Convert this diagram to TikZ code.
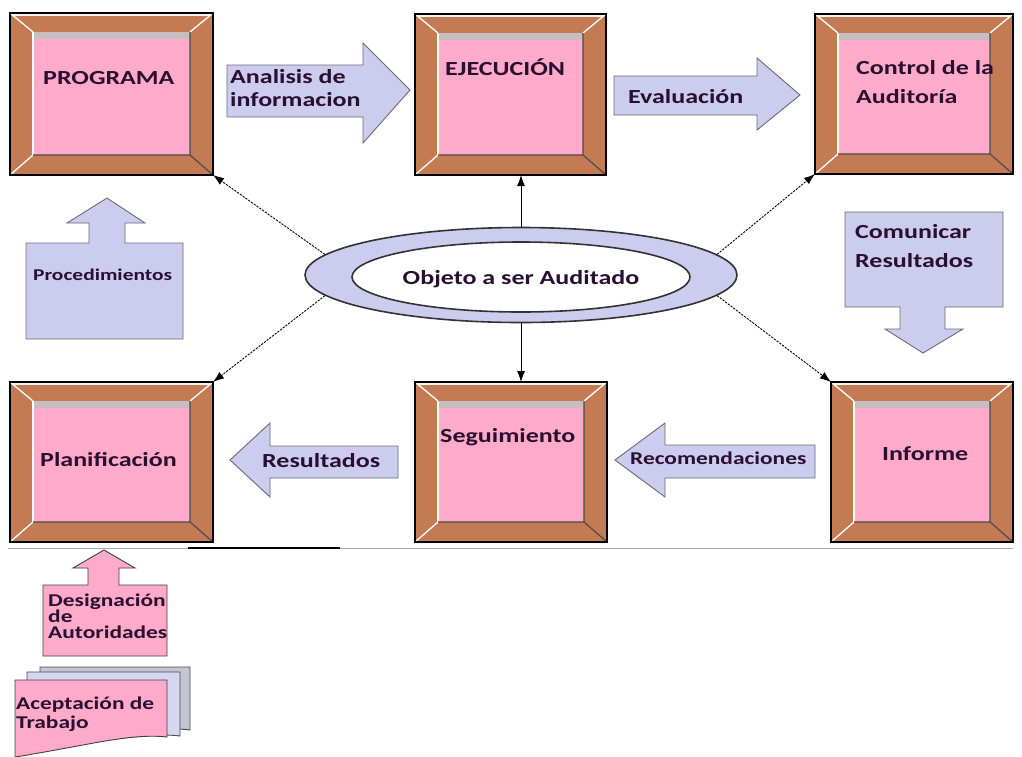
\documentclass[tikz,border=0pt]{standalone}
\usepackage{fontspec}
\newfontfamily\lblfont{Carlito}[FakeStretch=1.3]
\usetikzlibrary{arrows.meta,shapes.geometric}
\definecolor{brownc}{HTML}{C47B53}
\definecolor{pinkc}{HTML}{FFAAC8}
\definecolor{lavc}{HTML}{CCCCEE}
\definecolor{lavgrey}{HTML}{C4C4D4}
\definecolor{stripc}{HTML}{C8BEC2}
\definecolor{txtc}{HTML}{2A1030}
\definecolor{edgec}{HTML}{6A6A78}
\newcommand\bevelframe[5]{%
  \node[frameouter, minimum width={(#4-#2)*1pt}, minimum height={(#5-#3)*1pt}] (#1) at ({(#2+#4)/2},{(#3+#5)/2}) {};
  \coordinate (#1-a) at ({#2+23},{#3+19});
  \coordinate (#1-b) at ({#4-23},{#3+19});
  \coordinate (#1-c) at ({#4-23},{#5-20});
  \coordinate (#1-d) at ({#2+23},{#5-20});
  \fill[pinkc] (#1-a) rectangle (#1-c);
  \fill[stripc] (#1-a) rectangle ({#4-23},{#3+26});
  \draw[white!90!brownc, line width=1.3pt] ({#2+2},{#3+2}) -- ({#4-2},{#3+2});
  \draw[white, line width=1.3pt] (#1.north west) -- (#1-a) (#1.south west) -- (#1-d) (#1.north east) -- (#1-b);
  \draw[white, line width=1.3pt] (#1-a) -- (#1-d);
  \draw[black!70, line width=1.2pt] (#1.south east) -- (#1-c) (#1-d) -- (#1-c) -- (#1-b);
  \draw[black, line width=1.2pt] (#1.north west) rectangle (#1.south east);
}
\begin{document}
\begin{tikzpicture}[x=1pt,y=-1pt,
  frameouter/.style={rectangle, inner sep=0pt, outer sep=0pt, fill=brownc},
  lbl/.style={text=txtc, inner sep=0pt, align=left},
  fsz/.style 2 args={font=\lblfont\bfseries\fontsize{#1}{#2}\selectfont},
  barrow/.style={fill=lavc, draw=edgec, line width=0.9pt, line join=miter},
  parrow/.style={fill=pinkc, draw=black!75, line width=0.9pt},
  conn/.style={-{Latex[length=11pt,width=8pt]}, line width=0.9pt, black},
  dsh/.style={dash pattern=on 2.2pt off 1.2pt}]
\useasboundingbox (0,0) rectangle (1022,756);
\fill[white] (0,0) rectangle (1022,756);

% bevel frames
\bevelframe{prog}{10}{13}{213}{175}
\bevelframe{ejec}{415}{14}{606}{175}
\bevelframe{ctrl}{815}{14}{1013}{174}
\bevelframe{plan}{10}{382}{213}{542}
\bevelframe{seg}{415}{382}{607}{542}
\bevelframe{inf}{831}{382}{1013}{542}

% (for multi-line labels the given point is the baseline of the last line)
\node[lbl, fsz={20}{24}, anchor=base west] (prog-t) at (43,84) {PROGRAMA};
\node[lbl, fsz={20}{24}, anchor=base west] (ejec-t) at (445,75.5) {EJECUCIÓN};
\node[lbl, fsz={20}{29}, anchor=base west] (ctrl-t) at (856,103.5) {Control de la\\Auditoría};
\node[lbl, fsz={20}{24}, anchor=base west] (plan-t) at (40,466) {Planificación};
\node[lbl, fsz={20}{24}, anchor=base west] (seg-t) at (440,442) {Seguimiento};
\node[lbl, fsz={20}{24}, anchor=base west] (inf-t) at (882,460) {Informe};

% separator lines
\draw[black!35, line width=1pt] (8,548) -- (1013,548);
\draw[black, line width=1.6pt] (188,548) -- (340,548);

% block arrows
\draw[barrow] (227,65) -- (363,65) -- (363,43) -- (410,90) -- (363,143) -- (363,117) -- (227,117) -- cycle;
\node[lbl, fsz={20}{23}, anchor=base west] (ana-t) at (230,106.5) {Analisis de\\informacion};

\draw[barrow] (614,76) -- (757,76) -- (757,58) -- (800,95) -- (757,130) -- (757,115) -- (614,115) -- cycle;
\node[lbl, fsz={20}{24}, anchor=base west] (eva-t) at (628,103) {Evaluación};

\draw[barrow] (26,243) -- (89,243) -- (89,223) -- (67,223) -- (107,198) -- (145,223) -- (125,223) -- (125,243) -- (183,243) -- (183,339) -- (26,339) -- cycle;
\node[lbl, fsz={16.5}{20}, anchor=base west] (proc-t) at (33,280) {Procedimientos};

\draw[barrow] (845,212) -- (1003,212) -- (1003,307) -- (945,307) -- (945,329) -- (963,329) -- (923,353) -- (885,329) -- (900,329) -- (900,307) -- (845,307) -- cycle;
\node[lbl, fsz={20}{29}, anchor=base west] (com-t) at (855,267) {Comunicar\\Resultados};

\draw[barrow] (398,446) -- (398,478) -- (270,478) -- (270,497) -- (230,460) -- (270,423) -- (270,446) -- cycle;
\node[lbl, fsz={20}{24}, anchor=base west] (res-t) at (262,467) {Resultados};

\draw[barrow] (815,445) -- (815,478) -- (665,478) -- (665,497) -- (615,460) -- (665,423) -- (665,445) -- cycle;
\node[lbl, fsz={18}{24}, anchor=base west] (rec-t) at (630,464) {Recomendaciones};

% central ellipse
\node[ellipse, minimum width=432pt, minimum height=95pt, inner sep=0pt, fill=lavc, draw=black!80, line width=1.6pt] (obj) at (521,275) {};
\node[ellipse, minimum width=338pt, minimum height=70pt, inner sep=0pt, fill=white, draw=black!80, line width=1.6pt] (objin) at (521,277) {};
\node[lbl, fsz={20}{24}, anchor=base] (obj-t) at (521,284) {Objeto a ser Auditado};

% connectors
\draw[conn, dsh] (obj.174) -- (prog.south east);
\draw[conn] (obj.north) -- (obj.north |- ejec.south);
\draw[conn, dsh] (obj.6) -- (ctrl.south west);
\draw[conn, dsh] (obj.186) -- (plan.north east);
\draw[conn] (obj.south) -- (obj.south |- seg.north);
\draw[conn, dsh] (obj.354) -- (inf.north west);

% bottom left
\draw[parrow] (43,585) -- (88,585) -- (88,568) -- (73,568) -- (104,550) -- (135,568) -- (119,568) -- (119,585) -- (167,585) -- (167,656) -- (43,656) -- cycle;
\node[lbl, fsz={18}{16}, anchor=base west] (des-t) at (48,638) {Designación\\de\\Autoridades};

\draw[fill=lavgrey, draw=black!70, line width=0.9pt] (40,667) -- (190,667) -- (190,730) .. controls (160,726) and (120,734) .. (40,744) -- cycle;
\draw[fill=lavc!80!white, draw=black!70, line width=0.9pt] (27,672) -- (180,672) -- (180,736) .. controls (150,732) and (100,742) .. (27,750) -- cycle;
\draw[fill=pinkc, draw=black!75, line width=0.9pt] (15,680) -- (167,680) -- (167,737) .. controls (130,733) and (90,745) .. (15,757) -- cycle;
\node[lbl, fsz={18}{19}, anchor=base west] (acep-t) at (16,728) {Aceptación de\\Trabajo};
\end{tikzpicture}
\end{document}
